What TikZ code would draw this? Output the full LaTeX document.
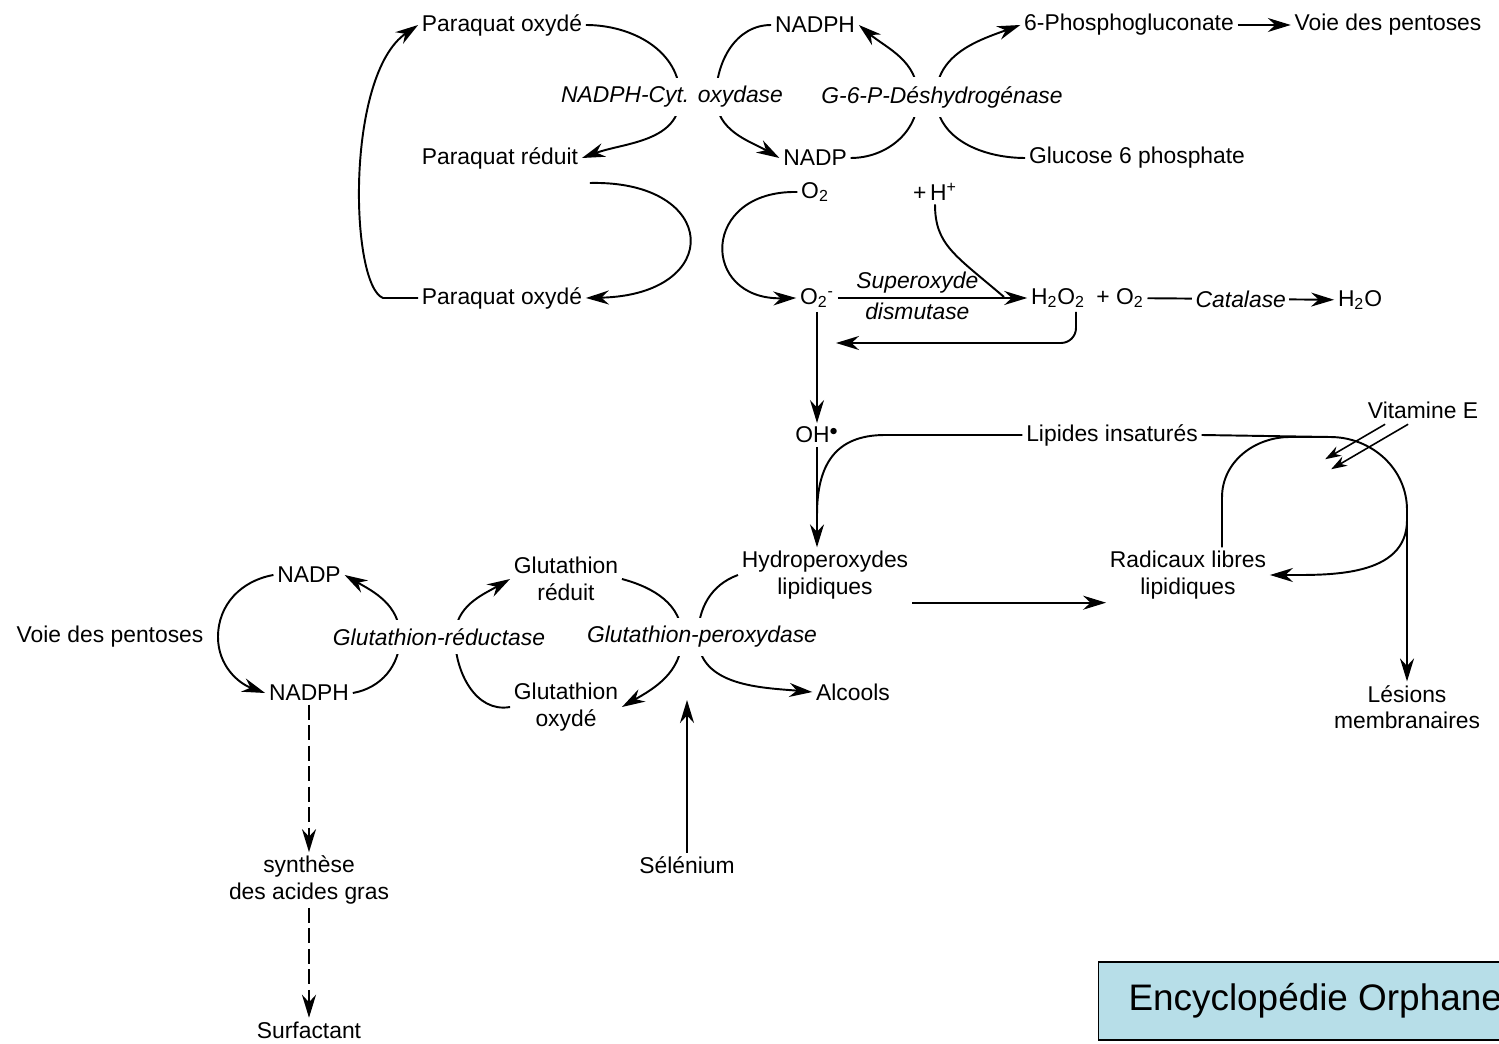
\documentclass[tikz,border=0pt]{standalone}
\usepackage{fontspec}
\setmainfont{Liberation Sans}
\usetikzlibrary{arrows.meta,calc}
\definecolor{boxcyan}{RGB}{183,222,232}

\begin{document}
\begin{tikzpicture}[x=0.2mm, y=-0.2mm,
  lbl/.style={font=\fontsize{13}{15}\selectfont, inner sep=2pt, align=center},
  enz/.style={lbl, font=\fontsize{13}{15}\selectfont\itshape},
  enzx/.style={enz, fill=white, inner ysep=5pt},
  arr/.style={-{Stealth[length=4.6mm,width=2.8mm]}, line width=1.1pt},
  ln/.style={line width=1.1pt},
  darr/.style={arr, line width=1.3pt, dash pattern=on 3mm off 1.1mm},
  varr/.style={-{Stealth[length=3.2mm,width=2.1mm]}, line width=0.9pt}
]
\useasboundingbox (0,0) rectangle (1499,1044);

% top: paraquat and pentose cycles
\node[lbl] (pqox1) at (502,25) {Paraquat oxydé};
\node[lbl] (nadph1) at (815,25) {NADPH};
\node[lbl] (pgluc) at (1129,25) {6-Phosphogluconate};
\node[lbl] (voie1) at (1388,25) {Voie des pentoses};
\node[lbl] (pqred) at (500,158) {Paraquat réduit};
\node[lbl] (nadp1) at (815,158) {NADP};
\node[lbl] (g6p) at (1137,158) {Glucose 6 phosphate};
\node[lbl] (o2a) at (815,192) {O\textsubscript{2}};
\node[lbl] (hplus) at (935,192) {+\,H\textsuperscript{+}};
\node[lbl] (pqox2) at (502,298) {Paraquat oxydé};
\node[lbl] (o2m) at (817,298) {O\textsubscript{2}\textsuperscript{-}};
\node[lbl] (h2o2) at (1058,298) {H\textsubscript{2}O\textsubscript{2}};
\node[lbl] (o2b) at (1120,298) {+ O\textsubscript{2}};
\node[lbl] (h2o) at (1360,300) {H\textsubscript{2}O};

% lipids
\node[lbl] (ohr) at (817,435) {OH\textsuperscript{$\bullet$}};
\node[lbl] (lipins) at (1112,435) {Lipides insaturés};
\node[lbl] (vite) at (1423,410) {Vitamine E};
\node[lbl] (hyd) at (825,575) {Hydroperoxydes\\lipidiques};
\node[lbl] (radl) at (1188,575) {Radicaux libres\\lipidiques};
\node[lbl] (les) at (1407,707) {Lésions\\membranaires};
\node[lbl] (alc) at (853,692) {Alcools};
\node[lbl] (selen) at (687,865) {Sélénium};

% glutathion
\node[lbl] (gsh) at (566,579) {Glutathion\\réduit};
\node[lbl] (gssg) at (566,707) {Glutathion\\oxydé};
\node[lbl] (nadp2) at (309,575) {NADP};
\node[lbl] (nadph2) at (309,693) {NADPH};
\node[lbl] (voie2) at (110,637) {Voie des pentoses};
\node[lbl] (synth) at (309,880) {synthèse\\des acides gras};
\node[lbl] (surf) at (309,1030) {Surfactant};

\coordinate (ohin) at (836,343);
\coordinate (lesbr) at (1407,520);
\coordinate (gpxin) at (687,700);

\draw[arr] (pqox2.west) -- (383,298) .. controls (350,285) and (345,75) .. (pqox1.west);
\draw[arr] (pqox1.east) to[out=0,in=90] (680,97) to[out=-90,in=20] (pqred.east);
\draw[arr] (nadph1.west) to[out=180,in=90] (716,97) to[out=-90,in=150] (nadp1.west);
\draw[arr] (nadp1.east) to[out=0,in=-90] (918,97) to[out=90,in=-40] (nadph1.east);
\draw[arr] (g6p.west) to[out=180,in=-90] (936,97) to[out=90,in=200] (pgluc.west);
\draw[arr] (pgluc) -- (voie1);
\draw[arr] ($(pqred.east)+(8,25)$) .. controls (720,180) and (725,295) .. (pqox2.east);

\draw[arr] (o2a.west) .. controls (700,190) and (700,300) .. (o2m.west);
\draw[arr] (o2m) -- node[enz, above, pos=0.42]{Superoxyde} node[enz, below, pos=0.42]{dismutase} (h2o2);
\draw[ln] (hplus.south) .. controls (935,245) and (955,255) .. (1004,297);
\draw[arr, rounded corners=3mm] ($(h2o2.south)+(18,0)$) |- (ohin);
\draw[arr] (o2b) -- node[enz, fill=white]{Catalase} (h2o);

\draw[arr] (o2m) -- (ohr);
\draw[arr] (ohr) -- (ohr |- hyd.north);
\draw[ln] (lipins.west) -- (885,435) .. controls (835,435) and (817,465) .. (817,515);
\draw[arr] (lipins.east) -- (1330,437) to[out=0,in=90] (1407,510) -- (les.north);
\draw[ln] ($(radl.north)+(34,0)$) -- ++(0,-50) to[out=90,in=180] (1290,437) -- (1330,437);
\draw[arr] (lesbr) to[out=-90,in=0] (radl.east);
\draw[varr] ($(vite.south west)+(21,2)$) -- ++(-60,35);
\draw[varr] ($(vite.south west)+(44,2)$) -- ++(-77,45);
\draw[arr] (hyd.south east) -- (radl.south west);

\draw[arr] (gsh.east) to[out=-15,in=90] (682,637) to[out=-90,in=30] (gssg.east);
\draw[arr] (hyd.west) to[out=200,in=90] (698,637) to[out=-90,in=175] (alc.west);
\draw[arr] (selen) -- (gpxin);
\draw[arr] (nadph2.east) to[out=10,in=-90] (400,637) to[out=90,in=-30] (nadp2.east);
\draw[arr] (gssg.west) to[out=190,in=-90] (455,637) to[out=90,in=210] (gsh.west);
\draw[arr] (nadp2.west) to[out=190,in=90] (218,637) to[out=-90,in=160] (nadph2.west);
\draw[darr] (nadph2) -- (synth);
\draw[darr] (synth) -- (surf);

% enzymes, over the arcs
\node[enzx] (cytox) at (672,97) {NADPH-Cyt. oxydase};
\node[enzx] (g6pdh) at (942,97) {G-6-P-Déshydrogénase};
\node[enzx] (gpx) at (702,637) {Glutathion-peroxydase};
\node[enzx] (gred) at (439,637) {Glutathion-réductase};

\node[draw, line width=0.6pt, fill=boxcyan, anchor=west, minimum height=15.6mm, inner xsep=6mm,
  font=\fontsize{21}{25}\selectfont] (orpha) at (1098,1001) {Encyclopédie Orphanet};
\end{tikzpicture}
\end{document}
